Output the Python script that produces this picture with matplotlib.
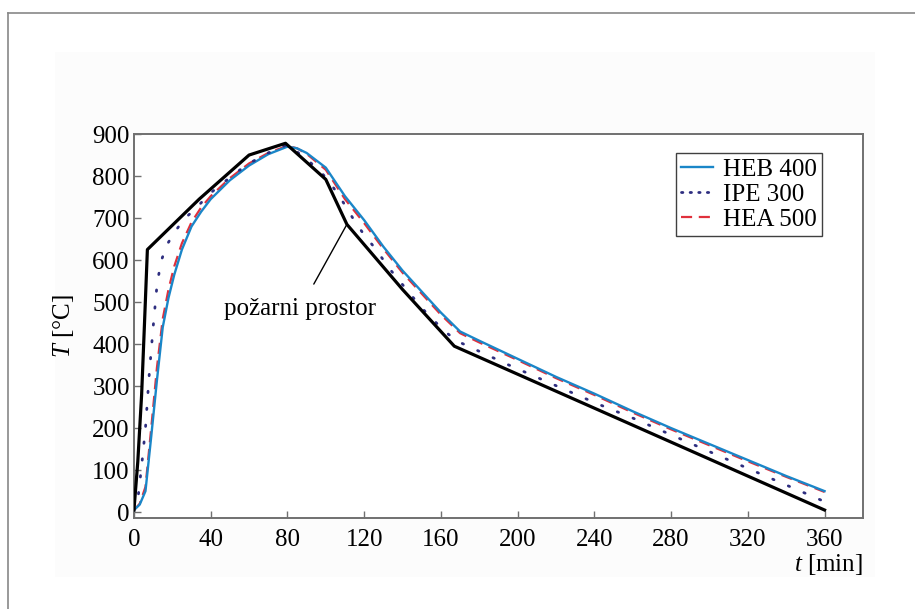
import matplotlib.pyplot as plt
from matplotlib.lines import Line2D
from matplotlib.patches import Rectangle

plt.rcParams["font.family"] = ["Liberation Serif", "DejaVu Serif"]
plt.rcParams["mathtext.fontset"] = "custom"
plt.rcParams["mathtext.rm"] = "Liberation Serif"
plt.rcParams["mathtext.it"] = "Liberation Serif:italic"

# pozarni prostor (temperatura plinova u prostoru)
t_prostor = [0, 2, 4, 5.5, 7, 34, 60, 79, 100, 111, 140, 167, 360]
T_prostor = [5, 120, 280, 450, 625, 745, 850, 878, 792, 685, 530, 395, 5]

# HEB 400 i HEA 500
t_profil = [0, 3, 6, 9, 12, 15, 18, 21, 25, 30, 35, 40, 50, 60, 70, 80, 85, 90,
            100, 110, 120, 130, 140, 150, 160, 170, 180, 200, 220, 240, 260,
            280, 300, 320, 340, 360]
T_heb400 = [5, 18, 50, 180, 315, 440, 510, 565, 625, 680, 715, 745, 790, 825,
            852, 870, 866, 855, 820, 752, 695, 632, 575, 525, 475, 430, 408,
            365, 322, 282, 240, 200, 162, 124, 86, 50]
T_hea500 = [5, 20, 60, 200, 345, 460, 530, 585, 640, 690, 725, 752, 795, 830,
            855, 872, 866, 853, 815, 745, 688, 627, 570, 520, 470, 426, 404,
            362, 319, 279, 237, 197, 159, 121, 84, 48]

# IPE 300
t_ipe = [0, 2, 4, 6, 8, 10, 12, 14, 17, 21, 26, 32, 40, 45, 52, 60, 70, 80,
         90, 97, 102, 107, 115, 120, 125, 134, 150, 162, 169, 178, 195, 205,
         241, 260, 314, 360]
T_ipe300 = [5, 29, 110, 200, 330, 440, 540, 595, 635, 665, 697, 722, 760, 778,
            804, 830, 855, 875, 840, 812, 785, 753, 693, 660, 632, 575, 486,
            430, 406, 387, 351, 331, 259, 224, 116, 25]

x_ticks = [0, 40, 80, 120, 160, 200, 240, 280, 320, 360]
y_ticks = [0, 100, 200, 300, 400, 500, 600, 700, 800, 900]

fig = plt.figure(figsize=(9.15, 6.09), dpi=100)

# okvir i svijetla podloga
fig.add_artist(Rectangle((55 / 915, 1 - 577 / 609), 820 / 915, 525 / 609,
                         transform=fig.transFigure, facecolor="#fcfcfc",
                         edgecolor="none", zorder=-5))
fig.add_artist(Line2D([8 / 915, 8 / 915], [0, 1 - 13 / 609],
                      transform=fig.transFigure, color="#888888", lw=1.2))
fig.add_artist(Line2D([8 / 915, 1], [1 - 13 / 609, 1 - 13 / 609],
                      transform=fig.transFigure, color="#888888", lw=1.2))

ax = fig.add_axes([0.1464, 0.1494, 0.7967, 0.6305])
ax.set_facecolor("white")

ax.plot(t_profil, T_heb400, color="#1a86c8", lw=1.7, zorder=3)
ax.plot(t_ipe, T_ipe300, color="#2e2e80", lw=2.0, linestyle=(0, (0.5, 5.6)),
        dash_capstyle="round", zorder=4)
ax.plot(t_profil, T_hea500, color="#e0303c", lw=1.6, linestyle=(0, (5, 3)),
        zorder=2)
ax.plot(t_prostor, T_prostor, color="black", lw=2.3, zorder=5)

ax.annotate("požarni prostor", xy=(111, 685), xytext=(86.6, 484),
            ha="center", va="center", fontsize=18,
            arrowprops=dict(arrowstyle="-", color="black", lw=1.0,
                            shrinkA=9, shrinkB=0))

ax.set_xlim(0, 380)
ax.set_ylim(-14, 900)
ax.set_xticks(x_ticks)
ax.set_yticks(y_ticks)
ax.tick_params(direction="in", length=5, width=1, color="#707070",
               labelsize=18, top=False, right=False)
ax.tick_params(axis="x", pad=8)
ax.tick_params(axis="y", pad=3)
for s in ax.spines.values():
    s.set_color("#707070")
    s.set_linewidth(1.4)

ax.set_ylabel("$T$ [°C]", fontsize=18)
ax.yaxis.set_label_coords(-0.079, 0.5)
ax.set_xlabel("$t$ [min]", fontsize=18, loc="right")
ax.xaxis.set_label_coords(1.0, -0.122)
ax.xaxis.label.set_verticalalignment("center")

# legenda (gusce tocke u uzorku kao na originalu)
handles = [
    Line2D([], [], color="#1a86c8", lw=1.7),
    Line2D([], [], color="#2e2e80", lw=2.0, linestyle=(0, (0.5, 2.6)),
           dash_capstyle="round"),
    Line2D([], [], color="#e0303c", lw=1.6, linestyle=(0, (5, 3))),
]
labels = ["HEB 400", "IPE 300", "HEA 500"]
leg = ax.legend(handles, labels, loc="upper right",
                bbox_to_anchor=(0.944, 0.9505),
                borderaxespad=0, fontsize=18, fancybox=False, framealpha=1,
                edgecolor="#404040", handlelength=1.3, handletextpad=0.4,
                labelspacing=0.1, borderpad=0.2)
leg.get_frame().set_linewidth(1.0)

plt.savefig("out.png", dpi=100)
